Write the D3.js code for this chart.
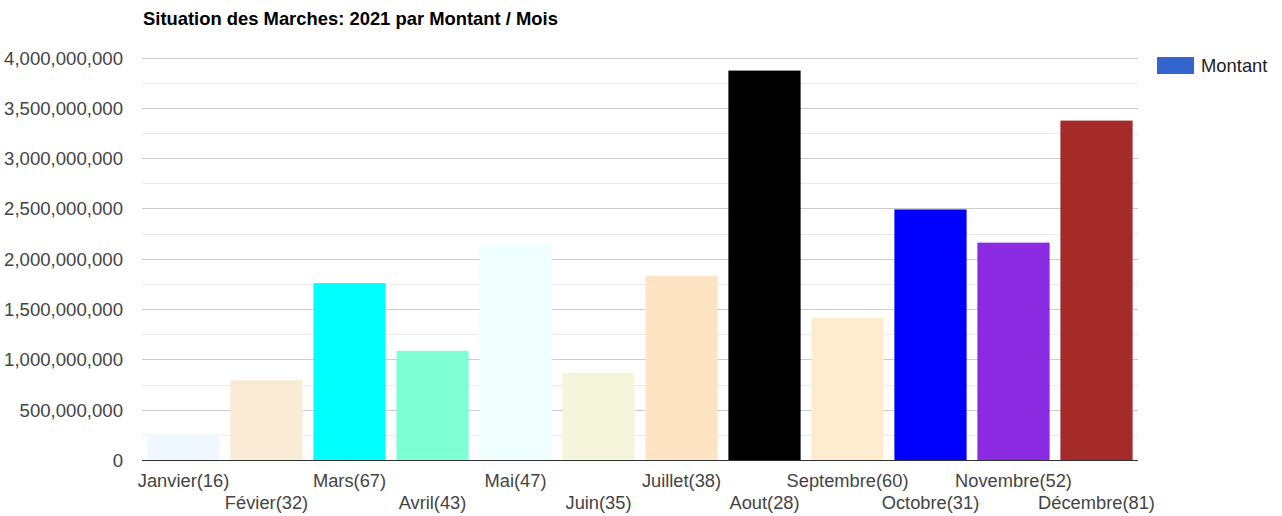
<!DOCTYPE html>
<html>
<head>
<meta charset="utf-8">
<script src="https://cdn.jsdelivr.net/npm/d3@7"></script>
<style>
  html, body { margin: 0; padding: 0; background: #fff; }
  svg { display: block; font-family: "Liberation Sans", Arial, sans-serif; }
</style>
</head>
<body>
<svg id="chart" width="1282" height="516"></svg>
<script>
const months = ["Janvier","Févier","Mars","Avril","Mai","Juin","Juillet","Aout","Septembre","Octobre","Novembre","Décembre"];
const counts = [16,32,67,43,47,35,38,28,60,31,52,81];
const values = [258000000,793000000,1758000000,1085000000,2149000000,866000000,1830000000,3870000000,1413000000,2490000000,2160000000,3373000000];
const colors = ["aliceblue","antiquewhite","aqua","aquamarine","azure","beige","bisque","black","blanchedalmond","blue","blueviolet","brown"];
const yTicks = [0,500000000,1000000000,1500000000,2000000000,2500000000,3000000000,3500000000,4000000000];
const yMinor = [250000000,750000000,1250000000,1750000000,2250000000,2750000000,3250000000,3750000000];
const seriesName = "Montant";
const title = "Situation des Marches: 2021 par Montant / Mois";

(function () {
const svg = d3.select("#chart");
const pLeft = 142, pRight = 1138, pTop = 57.5, pBottom = 460;

const x = d3.scaleBand().domain(months).range([pLeft, pRight]).paddingInner(0.13).paddingOuter(0.065);
const y = d3.scaleLinear().domain([0, 4000000000]).range([pBottom, pTop]);

svg.append("g").selectAll("line").data(yMinor).join("line")
  .attr("x1", pLeft).attr("x2", pRight)
  .attr("y1", d => Math.round(y(d)) + 0.5).attr("y2", d => Math.round(y(d)) + 0.5)
  .attr("stroke", "#ebebeb").attr("stroke-width", 1);

svg.append("g").selectAll("line").data(yTicks.filter(d => d > 0)).join("line")
  .attr("x1", pLeft).attr("x2", pRight)
  .attr("y1", d => Math.round(y(d)) + 0.5).attr("y2", d => Math.round(y(d)) + 0.5)
  .attr("stroke", "#cccccc").attr("stroke-width", 1);

svg.append("g").selectAll("rect").data(months).join("rect")
  .attr("x", d => x(d))
  .attr("width", x.bandwidth())
  .attr("y", (d, i) => y(values[i]))
  .attr("height", (d, i) => pBottom - y(values[i]))
  .attr("fill", (d, i) => colors[i]);

svg.append("line").attr("x1", pLeft).attr("x2", pRight)
  .attr("y1", pBottom + 0.5).attr("y2", pBottom + 0.5)
  .attr("stroke", "#333").attr("stroke-width", 1);

const fmt = d3.format(",");
const yAxis = d3.axisLeft(y).tickValues(yTicks).tickFormat(fmt).tickSize(0).tickPadding(0);
const yg = svg.append("g").attr("transform", `translate(${pLeft - 19},0)`).call(yAxis);
yg.select(".domain").remove();
yg.selectAll("text").attr("font-size", 18.6).attr("fill", "#444").attr("font-family", "Liberation Sans, Arial, sans-serif").attr("dy", "0.35em");

const xAxis = d3.axisBottom(x).tickSize(0).tickPadding(0).tickFormat((d, i) => `${d}(${counts[i]})`);
const xg = svg.append("g").attr("transform", `translate(0,${pBottom})`).call(xAxis);
xg.select(".domain").remove();
xg.selectAll("text")
  .attr("font-size", 18.3).attr("fill", "#444").attr("font-family", "Liberation Sans, Arial, sans-serif")
  .attr("dy", null)
  .attr("y", (d, i) => i % 2 === 0 ? 27 : 49);

svg.append("text").attr("x", 143).attr("y", 25)
  .attr("font-size", 18.4).attr("font-weight", "bold").attr("fill", "#000")
  .text(title);

svg.append("rect").attr("x", 1157).attr("y", 57).attr("width", 37).attr("height", 17).attr("fill", "#3366cc");
svg.append("text").attr("x", 1201).attr("y", 72).attr("font-size", 18.4).attr("fill", "#222").text(seriesName);
})();
</script>
</body>
</html>
